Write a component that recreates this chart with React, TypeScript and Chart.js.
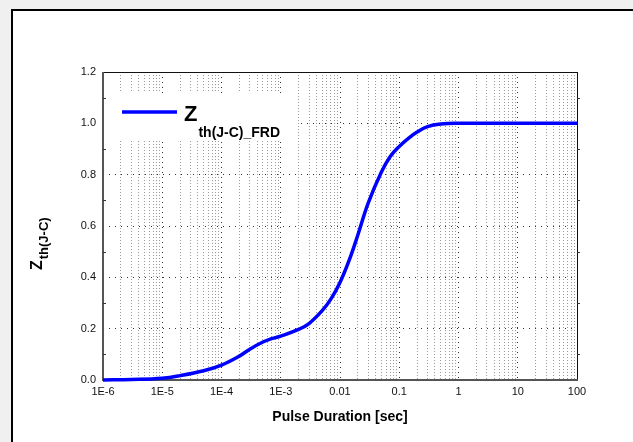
import React, { useEffect, useRef } from 'react';
import { Chart, registerables } from 'chart.js';

Chart.register(...registerables);

// ---- data ----
const pulseDuration = [1e-6, 3e-6, 1e-5, 2e-5, 5e-5, 1e-4, 2e-4, 3e-4, 5e-4, 7e-4, 1e-3, 2e-3, 3e-3, 5e-3, 7e-3, 0.01, 0.015, 0.02, 0.03, 0.05, 0.07, 0.1, 0.15, 0.2, 0.3, 0.5, 1, 10, 100];
const zthValues = [0, 0.002, 0.007, 0.017, 0.036, 0.058, 0.093, 0.12, 0.148, 0.161, 0.171, 0.197, 0.22, 0.27, 0.315, 0.38, 0.48, 0.565, 0.69, 0.81, 0.87, 0.91, 0.945, 0.966, 0.987, 0.997, 1.0, 1.0, 1.0];

const xDecadeValues = [1e-6, 1e-5, 1e-4, 1e-3, 0.01, 0.1, 1, 10, 100];
const xTickLabels = ['1E-6', '1E-5', '1E-4', '1E-3', '0.01', '0.1', '1', '10', '100'];
const yTickValues = [0, 0.2, 0.4, 0.6, 0.8, 1.0, 1.2];
const yTickLabels = ['0.0', '0.2', '0.4', '0.6', '0.8', '1.0', '1.2'];

const seriesName = 'Z';
const seriesSub = 'th(J-C)_FRD';
const yTitleMain = 'Z';
const yTitleSub = 'th(J-C)';
const xTitle = 'Pulse Duration [sec]';

const FONT = '"Liberation Sans", Arial, sans-serif';

const isDecade = (v: number | undefined) => {
  if (v === undefined || v <= 0) return false;
  const l = Math.log10(v);
  return Math.abs(l - Math.round(l)) < 1e-6;
};

const decorPlugin = {
  id: 'decor',
  beforeDatasetsDraw(chart: any) {
    const { ctx, chartArea: ca } = chart;
    ctx.save();
    // legend background box
    ctx.fillStyle = '#ffffff';
    ctx.fillRect(ca.left + 1, ca.top + 21, 192, 48);
    // frame
    ctx.lineWidth = 1;
    ctx.strokeStyle = '#111';
    ctx.beginPath();
    ctx.moveTo(ca.left, ca.top + 0.5);
    ctx.lineTo(ca.right + 0.5, ca.top + 0.5);
    ctx.lineTo(ca.right + 0.5, ca.bottom);
    ctx.stroke();
    ctx.lineWidth = 2;
    ctx.strokeStyle = '#555';
    ctx.beginPath();
    ctx.moveTo(ca.left, ca.top);
    ctx.lineTo(ca.left, ca.bottom);
    ctx.lineTo(ca.right + 1, ca.bottom);
    ctx.stroke();
    // minor y ticks
    const y = chart.scales.y;
    ctx.lineWidth = 1;
    ctx.strokeStyle = '#333';
    for (let i = 0; i < yTickValues.length - 1; i++) {
      const mid = (yTickValues[i] + yTickValues[i + 1]) / 2;
      const py = Math.round(y.getPixelForValue(mid)) + 0.5;
      ctx.beginPath();
      ctx.moveTo(ca.left, py);
      ctx.lineTo(ca.left + 3, py);
      ctx.moveTo(ca.right, py);
      ctx.lineTo(ca.right + 3, py);
      ctx.stroke();
    }
    ctx.restore();
  },
  afterDatasetsDraw(chart: any) {
    const { ctx, chartArea: ca } = chart;
    ctx.save();
    // legend
    ctx.strokeStyle = '#0000ff';
    ctx.lineWidth = 3.5;
    ctx.beginPath();
    ctx.moveTo(ca.left + 19, ca.top + 40);
    ctx.lineTo(ca.left + 74, ca.top + 40);
    ctx.stroke();
    ctx.fillStyle = '#000';
    ctx.textBaseline = 'alphabetic';
    ctx.textAlign = 'left';
    ctx.font = `bold 22px ${FONT}`;
    const zx = ca.left + 81;
    ctx.fillText(seriesName, zx, ca.top + 49);
    const zw = ctx.measureText(seriesName).width;
    ctx.font = `bold 14px ${FONT}`;
    ctx.fillText(seriesSub, zx + zw + 1, ca.top + 65);

    // x title
    ctx.font = `bold 14px ${FONT}`;
    ctx.textAlign = 'center';
    ctx.textBaseline = 'middle';
    ctx.fillText(xTitle, (ca.left + ca.right) / 2, ca.bottom + 37);

    // y title (rotated)
    ctx.translate(ca.left - 61, ca.top + 198);
    ctx.rotate(-Math.PI / 2);
    ctx.textAlign = 'left';
    ctx.textBaseline = 'alphabetic';
    ctx.font = `bold 16px ${FONT}`;
    ctx.fillText(yTitleMain, 0, 0);
    const yw = ctx.measureText(yTitleMain).width;
    ctx.font = `bold 13px ${FONT}`;
    ctx.fillText(yTitleSub, yw + 1, 6);
    ctx.restore();
  },
};

export default function App() {
  const ref = useRef<HTMLCanvasElement | null>(null);

  useEffect(() => {
    if (!ref.current) return;
    const points = pulseDuration.map((x, i) => ({ x, y: zthValues[i] }));
    const chart = new Chart(ref.current, {
      type: 'line',
      data: {
        datasets: [
          {
            label: seriesName + seriesSub,
            data: points,
            borderColor: '#0000ff',
            backgroundColor: '#0000ff',
            borderWidth: 3.5,
            pointRadius: 0,
            tension: 0.4,
            fill: false,
            clip: false as any,
          },
        ],
      },
      options: {
        animation: false,
        responsive: false,
        devicePixelRatio: 1,
        layout: { padding: { left: 0, right: 56, top: 72, bottom: 0 } },
        plugins: {
          legend: { display: false },
          tooltip: { enabled: false },
        },
        scales: {
          x: {
            type: 'logarithmic',
            min: 1e-6,
            max: 100,
            afterBuildTicks: (scale: any) => {
              const ticks: any[] = [];
              for (let i = 0; i < xDecadeValues.length; i++) {
                const d = xDecadeValues[i];
                ticks.push({ value: d, major: true });
                if (i < xDecadeValues.length - 1) {
                  for (let m = 2; m <= 9; m++) ticks.push({ value: m * d, major: false });
                }
              }
              scale.ticks = ticks;
            },
            afterFit: (scale: any) => {
              scale.height = 62;
            },
            ticks: {
              autoSkip: false,
              maxRotation: 0,
              minRotation: 0,
              padding: 5,
              color: '#111',
              font: { family: FONT, size: 11 },
              callback: (value: any) => {
                const idx = xDecadeValues.findIndex((d) => Math.abs(d - value) / d < 1e-6);
                return idx >= 0 ? xTickLabels[idx] : '';
              },
            },
            grid: {
              drawTicks: false,
              lineWidth: 1,
              color: (ctx: any) => (isDecade(ctx.tick?.value) ? '#333' : '#9a9a9a'),
            },
            border: {
              display: false,
              dash: (ctx: any) => (isDecade(ctx.tick?.value) ? [1, 4] : [1, 2]),
            } as any,
          },
          y: {
            type: 'linear',
            min: 0,
            max: 1.2,
            afterBuildTicks: (scale: any) => {
              scale.ticks = yTickValues.map((v) => ({ value: v }));
            },
            afterFit: (scale: any) => {
              scale.width = 103;
            },
            ticks: {
              padding: 7,
              color: '#111',
              font: { family: FONT, size: 11 },
              callback: (value: any) => {
                const idx = yTickValues.findIndex((v) => Math.abs(v - value) < 1e-6);
                return idx >= 0 ? yTickLabels[idx] : '';
              },
            },
            grid: {
              drawTicks: false,
              lineWidth: 1,
              color: '#333',
            },
            border: { display: false, dash: [1, 5] } as any,
          },
        },
      },
      plugins: [decorPlugin],
    });
    return () => chart.destroy();
  }, []);

  return (
    <div
      style={{
        position: 'fixed',
        left: 0,
        top: 0,
        width: 633,
        height: 442,
        background: '#f0f0f0',
        overflow: 'hidden',
      }}
    >
      <div
        style={{
          position: 'absolute',
          left: 11,
          top: 9,
          width: 640,
          height: 450,
          background: '#ffffff',
          borderLeft: '2px solid #000',
          borderTop: '2px solid #000',
        }}
      />
      <canvas
        ref={ref}
        width={633}
        height={442}
        style={{ position: 'absolute', left: 0, top: 0, width: 633, height: 442 }}
      />
    </div>
  );
}
